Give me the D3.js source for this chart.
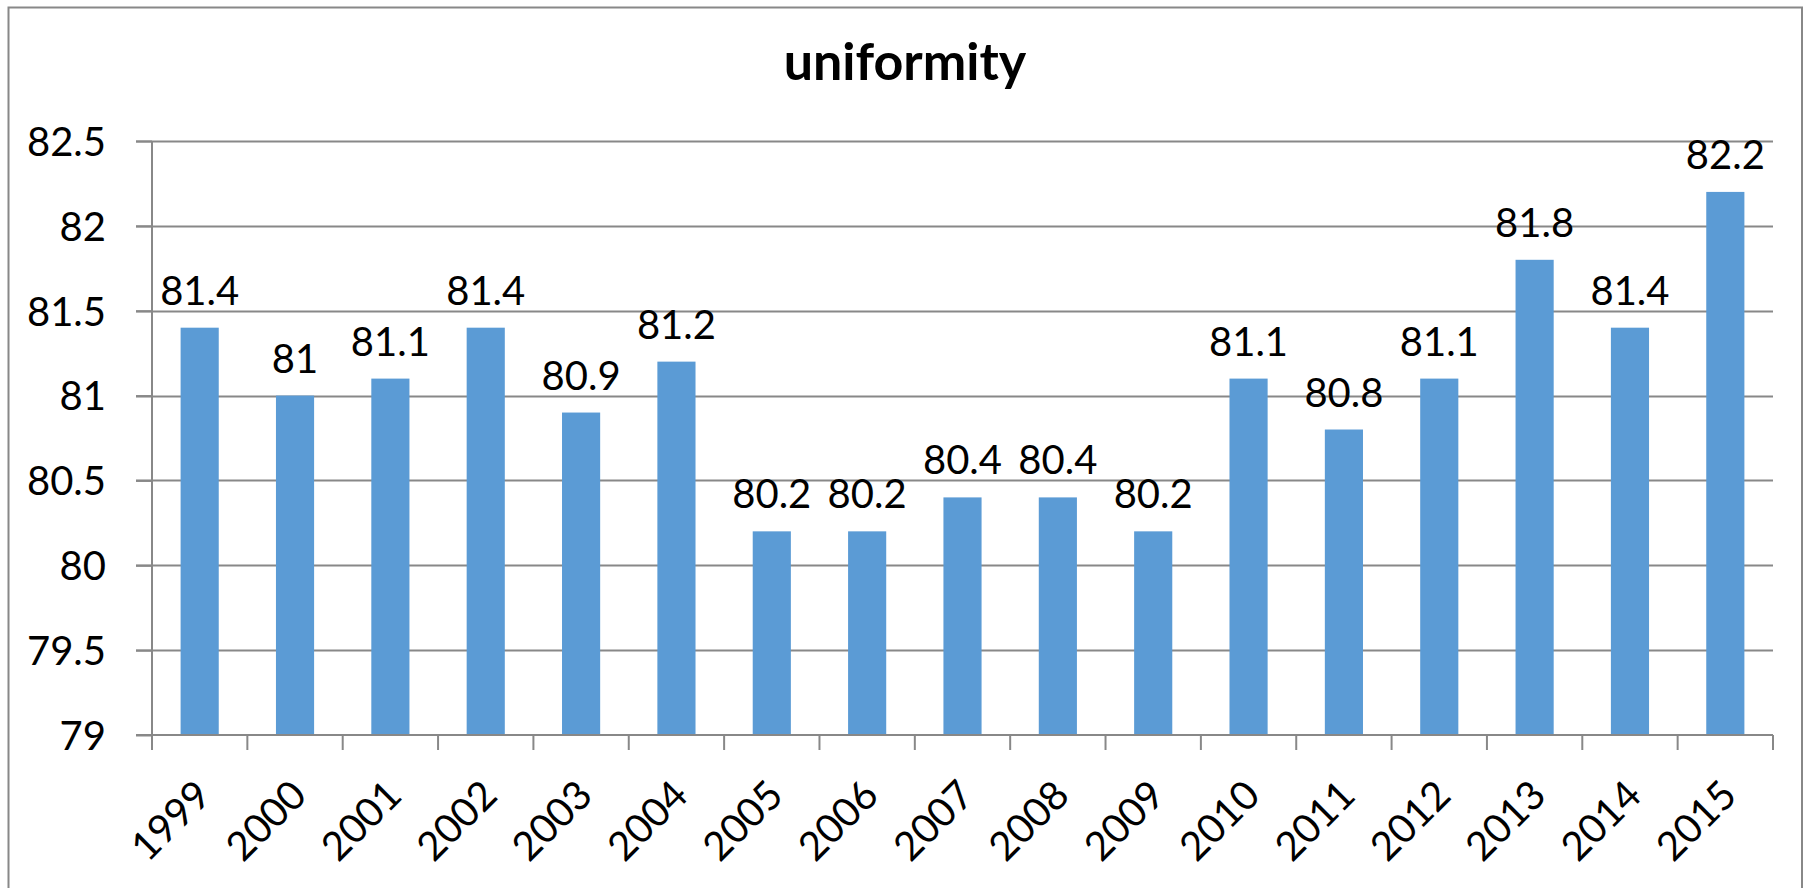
<!DOCTYPE html>
<html>
<head>
<meta charset="utf-8">
<script src="https://cdn.jsdelivr.net/npm/d3@7"></script>
<style>
  html, body { margin: 0; padding: 0; background: #fff; }
  svg { display: block; }
  text { font-family: Lato, "Open Sans", sans-serif; fill: #000; }
</style>
</head>
<body>
<svg id="chart" width="1808" height="888"></svg>
<script>
const title = "uniformity";
const years = ["1999","2000","2001","2002","2003","2004","2005","2006","2007","2008","2009","2010","2011","2012","2013","2014","2015"];
const values = [81.4, 81, 81.1, 81.4, 80.9, 81.2, 80.2, 80.2, 80.4, 80.4, 80.2, 81.1, 80.8, 81.1, 81.8, 81.4, 82.2];
const yTicks = [79, 79.5, 80, 80.5, 81, 81.5, 82, 82.5];

const W = 1808, H = 888;
const plotL = 152, plotR = 1773, plotT = 141, plotB = 735;
const gridColor = "#888888";
const barColor = "#5B9BD5";

const svg = d3.select("#chart");

// chart border
svg.append("rect")
  .attr("x", 8.5).attr("y", 7.5)
  .attr("width", 1802 - 8.5).attr("height", H + 10)
  .attr("fill", "#fff").attr("stroke", gridColor).attr("stroke-width", 2);

const x = d3.scaleBand().domain(years).range([plotL, plotR]).paddingInner(0.6).paddingOuter(0.3);
const y = d3.scaleLinear().domain([79, 82.5]).range([plotB, plotT]);

// gridlines
svg.append("g").selectAll("line").data(yTicks.filter(t => t > 79)).join("line")
  .attr("x1", plotL - 16).attr("x2", plotR)
  .attr("y1", d => Math.round(y(d)) + 0.5).attr("y2", d => Math.round(y(d)) + 0.5)
  .attr("stroke", gridColor).attr("stroke-width", 2);

// y axis
const yAxis = d3.axisLeft(y).tickValues(yTicks).tickSize(16).tickPadding(30).tickFormat(d => String(d));
const gy = svg.append("g").attr("transform", `translate(${plotL},0)`).call(yAxis);
gy.select(".domain").attr("stroke", gridColor).attr("stroke-width", 2).attr("d", `M0,${plotT}V${plotB}`);
gy.selectAll(".tick line").attr("stroke", gridColor).attr("stroke-width", 2);
gy.selectAll(".tick text").attr("font-size", 40).attr("font-family", "Lato, sans-serif").attr("fill", "#000").attr("dy", "0.36em");

// bars
svg.append("g").selectAll("rect").data(years).join("rect")
  .attr("x", d => x(d))
  .attr("width", x.bandwidth())
  .attr("y", (d, i) => y(values[i]))
  .attr("height", (d, i) => y(79) - y(values[i]))
  .attr("fill", barColor);

// x axis
const boundaries = d3.range(years.length + 1).map(i => plotL + i * (plotR - plotL) / years.length);
const gx = svg.append("g");
gx.append("line").attr("x1", plotL - 16).attr("x2", plotR).attr("y1", plotB).attr("y2", plotB)
  .attr("stroke", gridColor).attr("stroke-width", 2);
gx.selectAll("line.tk").data(boundaries).join("line").attr("class", "tk")
  .attr("x1", d => d).attr("x2", d => d).attr("y1", plotB).attr("y2", plotB + 15)
  .attr("stroke", gridColor).attr("stroke-width", 2);
gx.selectAll("text").data(years).join("text")
  .attr("transform", d => `translate(${x(d) + x.bandwidth() / 2 + 3},${plotB + 52}) rotate(-45)`)
  .attr("text-anchor", "end")
  .attr("dominant-baseline", "central")
  .attr("font-size", 40)
  .text(d => d);

// data labels
svg.append("g").selectAll("text").data(years).join("text")
  .attr("x", d => x(d) + x.bandwidth() / 2)
  .attr("y", (d, i) => y(values[i]) - 23)
  .attr("text-anchor", "middle")
  .attr("font-size", 40)
  .text((d, i) => String(values[i]));

// title
svg.append("text")
  .attr("x", 905).attr("y", 80)
  .attr("text-anchor", "middle")
  .attr("font-size", 52).attr("font-weight", "bold")
  .text(title);
</script>
</body>
</html>
